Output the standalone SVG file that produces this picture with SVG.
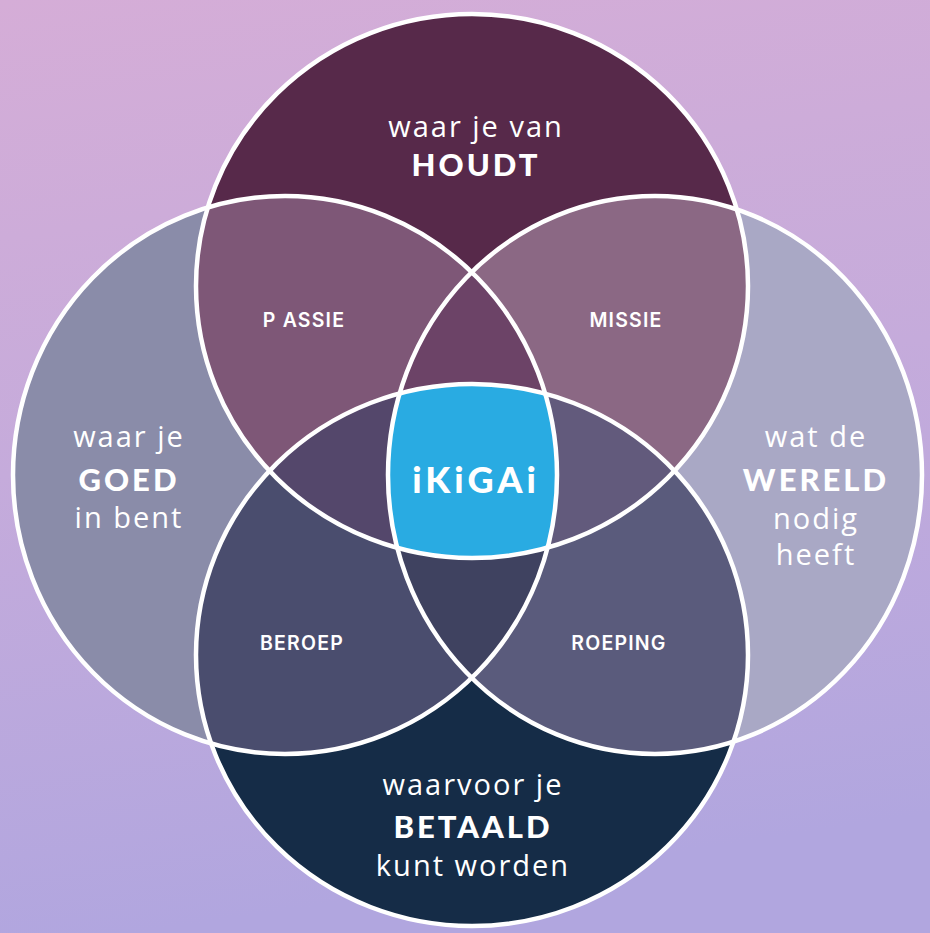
<svg xmlns="http://www.w3.org/2000/svg" xmlns:xlink="http://www.w3.org/1999/xlink" width="930" height="933" viewBox="0 0 930 933">
  <defs>
    <linearGradient id="bg" x1="0" y1="0" x2="0.15" y2="1">
      <stop offset="0" stop-color="#D5ADD7"/>
      <stop offset="0.5" stop-color="#C5ABDB"/>
      <stop offset="1" stop-color="#B1A6DF"/>
    </linearGradient>
    <ellipse id="T" cx="472" cy="286" rx="276" ry="272"/>
    <ellipse id="B" cx="472" cy="655" rx="276" ry="271"/>
    <ellipse id="L" cx="285" cy="475" rx="272" ry="279"/>
    <ellipse id="R" cx="655" cy="475" rx="267" ry="279"/>
    <clipPath id="cT"><use href="#T"/></clipPath>
    <clipPath id="cB"><use href="#B"/></clipPath>
    <clipPath id="cL"><use href="#L"/></clipPath>
    <clipPath id="cR"><use href="#R"/></clipPath>
  </defs>
  <style>
    .outline { fill: none; stroke: #FFFFFF; stroke-width: 4.5; }
    .sub { font-family: "Open Sans", "DejaVu Sans", sans-serif; font-size: 29px; letter-spacing: 2px; fill: #FFFFFF; text-anchor: middle; }
    .big { font-family: "Lato", "DejaVu Sans", sans-serif; font-weight: 900; font-size: 31px; letter-spacing: 3px; fill: #FFFFFF; text-anchor: middle; }
    .lbl { font-family: "Inter", "Open Sans", sans-serif; font-weight: 600; font-size: 19.5px; letter-spacing: 1.2px; fill: #FFFFFF; text-anchor: middle; }
    .iki { font-family: "Lato", "DejaVu Sans", sans-serif; font-weight: 900; font-size: 36px; letter-spacing: 4px; fill: #FFFFFF; text-anchor: middle; }
  </style>
  <rect width="930" height="933" fill="url(#bg)"/>

  <g id="circle-top"><use href="#T" fill="#57294A"/></g>
  <g id="circle-left"><use href="#L" fill="#8A8CA9"/></g>
  <g id="circle-right"><use href="#R" fill="#A9A8C5"/></g>
  <g id="circle-bottom"><use href="#B" fill="#152C47"/></g>

  <g id="overlaps">
    <g clip-path="url(#cT)"><use href="#L" fill="#7E5777"/></g>
    <g clip-path="url(#cT)"><use href="#R" fill="#8B6884"/></g>
    <g clip-path="url(#cB)"><use href="#L" fill="#4A4D6E"/></g>
    <g clip-path="url(#cB)"><use href="#R" fill="#5A5B7C"/></g>
    <g clip-path="url(#cT)"><g clip-path="url(#cL)"><use href="#R" fill="#6C4367"/></g></g>
    <g clip-path="url(#cB)"><g clip-path="url(#cL)"><use href="#R" fill="#3F4260"/></g></g>
    <g clip-path="url(#cT)"><g clip-path="url(#cB)"><use href="#L" fill="#54476B"/></g></g>
    <g clip-path="url(#cT)"><g clip-path="url(#cB)"><use href="#R" fill="#625A7C"/></g></g>
  </g>
  <g id="ikigai-center">
    <g clip-path="url(#cT)"><g clip-path="url(#cB)"><g clip-path="url(#cL)"><use href="#R" fill="#29ABE2"/></g></g></g>
  </g>

  <g id="outlines">
    <use href="#T" class="outline"/>
    <use href="#L" class="outline"/>
    <use href="#R" class="outline"/>
    <use href="#B" class="outline"/>
  </g>

  <g id="label-top">
    <text class="sub" x="476" y="137">waar je van</text>
    <text class="big" x="476" y="176">HOUDT</text>
  </g>
  <g id="label-left">
    <text class="sub" x="129" y="447">waar je</text>
    <text class="big" x="129" y="491">GOED</text>
    <text class="sub" x="129" y="528">in bent</text>
  </g>
  <g id="label-right">
    <text class="sub" x="816" y="447">wat de</text>
    <text class="big" x="816" y="491">WERELD</text>
    <text class="sub" x="816" y="529">nodig</text>
    <text class="sub" x="816" y="565">heeft</text>
  </g>
  <g id="label-bottom">
    <text class="sub" x="473" y="795">waarvoor je</text>
    <text class="big" x="473" y="838">BETAALD</text>
    <text class="sub" x="473" y="876">kunt worden</text>
  </g>
  <g id="label-passie"><text class="lbl" x="304" y="327">P ASSIE</text></g>
  <g id="label-missie"><text class="lbl" x="626" y="327">MISSIE</text></g>
  <g id="label-beroep"><text class="lbl" x="302" y="650">BEROEP</text></g>
  <g id="label-roeping"><text class="lbl" x="619" y="650">ROEPING</text></g>
  <g id="label-ikigai"><text class="iki" x="476" y="493">iKiGAi</text></g>
</svg>
